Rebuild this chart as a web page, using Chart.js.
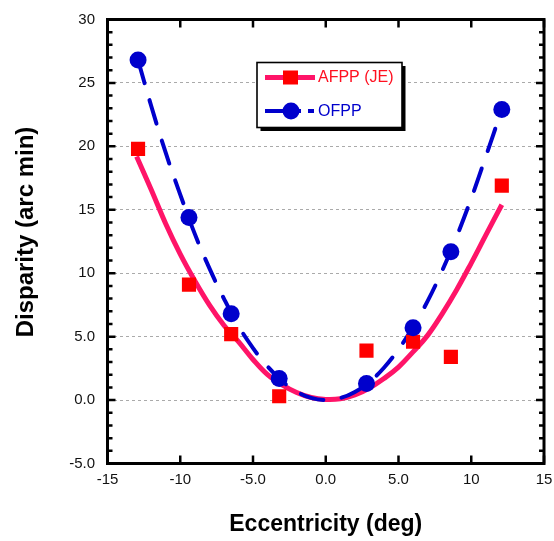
<!DOCTYPE html>
<html>
<head>
<meta charset="utf-8">
<script src="https://cdn.jsdelivr.net/npm/chart.js@4.4.1/dist/chart.umd.min.js"></script>
<style>
  html, body { margin: 0; padding: 0; background: #fff; }
</style>
</head>
<body>
<canvas id="chart" width="554" height="541"></canvas>
<script>
// measured points
const ecc = [-12.9, -9.4, -6.5, -3.2, 2.8, 6.0, 8.6, 12.1];
const afpp = [19.8, 9.1, 5.2, 0.3, 3.9, 4.6, 3.4, 16.9];
const ofpp = [26.8, 14.4, 6.8, 1.7, 1.3, 5.7, 11.7, 22.9];

// fitted curves
const afppFitX = [-13, -12, -11, -10, -9, -8, -7, -6, -5, -4, -3, -2, -1, 0, 1, 2, 3, 4, 5, 6, 7, 8, 9, 10, 11, 12.1];
const afppFitY = [19.2, 16.6, 13.9, 11.5, 9.4, 7.5, 5.9, 4.6, 3.2, 2.0, 1.2, 0.6, 0.2, 0.05, 0.1, 0.4, 0.95, 1.7, 2.6, 3.8, 5.1, 6.8, 8.7, 10.8, 13.0, 15.4];
const ofppFitX = [-12.9, -12, -11, -10, -9, -8, -7, -6, -5, -4, -3, -2, -1, 0, 1, 2, 3, 4, 5, 6, 7, 8, 9, 10, 11, 12.1];
const ofppFitY = [26.8, 23.2, 19.5, 16.2, 13.1, 10.4, 8.0, 5.85, 4.1, 2.65, 1.5, 0.67, 0.17, 0.0, 0.16, 0.64, 1.43, 2.55, 4.0, 5.75, 7.8, 10.2, 12.9, 15.9, 19.2, 22.9];

const seriesNames = ['AFPP (JE)', 'OFPP'];
const xTitle = 'Eccentricity (deg)';
const yTitle = 'Disparity (arc min)';
const xMin = -15, xMax = 15, xStep = 5;
const yMin = -5, yMax = 30, yStep = 5, yMinorStep = 1;

const PINK = '#ff1468';
const RED = '#ff0000';
const BLUE = '#0000cc';

const pts = (xs, ys) => xs.map((v, i) => ({ x: v, y: ys[i] }));
const fmt = (v) => Math.abs(v) >= 10 ? String(v) : v.toFixed(1);

// frame with inward ticks on all four sides
const framePlugin = {
  id: 'frame',
  afterDatasetsDraw(chart) {
    const { ctx, chartArea: a, scales: { x, y } } = chart;
    ctx.save();
    ctx.strokeStyle = '#000';
    ctx.lineWidth = 2.5;
    ctx.beginPath();
    for (let v = yMin; v <= yMax; v += yMinorStep) {
      const py = y.getPixelForValue(v);
      const len = v % yStep === 0 ? 8 : 5;
      ctx.moveTo(a.left, py); ctx.lineTo(a.left + len, py);
      ctx.moveTo(a.right, py); ctx.lineTo(a.right - len, py);
    }
    for (let v = xMin; v <= xMax; v += xStep) {
      const px = x.getPixelForValue(v);
      ctx.moveTo(px, a.bottom); ctx.lineTo(px, a.bottom - 8);
      ctx.moveTo(px, a.top); ctx.lineTo(px, a.top + 8);
    }
    ctx.stroke();
    ctx.lineWidth = 3;
    ctx.strokeRect(a.left, a.top, a.right - a.left, a.bottom - a.top);

    // y title
    ctx.translate(26, 232);
    ctx.rotate(-Math.PI / 2);
    ctx.fillStyle = '#000';
    ctx.font = 'bold 24px "Liberation Sans", Arial, sans-serif';
    ctx.textAlign = 'center';
    ctx.textBaseline = 'middle';
    ctx.fillText(yTitle, 0, 0);
    ctx.restore();
  }
};

// boxed legend with drop shadow
const legendPlugin = {
  id: 'boxLegend',
  afterDraw(chart) {
    const ctx = chart.ctx;
    const bx = 257, by = 62.5, bw = 145, bh = 65;
    ctx.save();
    ctx.fillStyle = '#000';
    ctx.fillRect(bx + 3.5, by + 3.5, bw, bh);
    ctx.fillStyle = '#fff';
    ctx.fillRect(bx, by, bw, bh);
    ctx.strokeStyle = '#000';
    ctx.lineWidth = 1.6;
    ctx.strokeRect(bx, by, bw, bh);

    // AFPP entry
    ctx.strokeStyle = PINK;
    ctx.lineWidth = 5;
    ctx.beginPath(); ctx.moveTo(265, 77.5); ctx.lineTo(315, 77.5); ctx.stroke();
    ctx.fillStyle = RED;
    ctx.fillRect(283, 70.5, 15, 14);

    // OFPP entry
    ctx.strokeStyle = BLUE;
    ctx.lineWidth = 4;
    ctx.beginPath(); ctx.moveTo(265, 111); ctx.lineTo(301, 111); ctx.stroke();
    ctx.beginPath(); ctx.moveTo(308, 111); ctx.lineTo(314, 111); ctx.stroke();
    ctx.fillStyle = BLUE;
    ctx.beginPath(); ctx.arc(291, 111, 8.5, 0, Math.PI * 2); ctx.fill();

    ctx.font = '16px "Liberation Sans", Arial, sans-serif';
    ctx.textBaseline = 'middle';
    ctx.textAlign = 'left';
    ctx.fillStyle = '#ff1020';
    ctx.fillText(seriesNames[0], 318, 78);
    ctx.fillStyle = BLUE;
    ctx.fillText(seriesNames[1], 318, 111.5);
    ctx.restore();
  }
};

new Chart(document.getElementById('chart'), {
  type: 'scatter',
  data: {
    datasets: [
      {
        label: seriesNames[1] + ' points',
        data: pts(ecc, ofpp),
        pointStyle: 'circle',
        pointRadius: 8.5,
        pointBorderWidth: 0,
        backgroundColor: BLUE,
        order: 1
      },
      {
        label: seriesNames[0] + ' points',
        data: pts(ecc, afpp),
        pointStyle: 'rect',
        pointRadius: 10,
        pointBorderWidth: 0,
        backgroundColor: RED,
        order: 2
      },
      {
        label: seriesNames[1] + ' fit',
        data: pts(ofppFitX, ofppFitY),
        showLine: true,
        pointRadius: 0,
        borderColor: BLUE,
        borderWidth: 4,
        borderDash: [24, 18],
        borderCapStyle: 'round',
        tension: 0.4,
        order: 3
      },
      {
        label: seriesNames[0] + ' fit',
        data: pts(afppFitX, afppFitY),
        showLine: true,
        pointRadius: 0,
        borderColor: PINK,
        borderWidth: 5,
        tension: 0.4,
        order: 4
      }
    ]
  },
  options: {
    responsive: false,
    animation: false,
    events: [],
    layout: { padding: { top: 19.5, right: 9, left: 0, bottom: 0 } },
    plugins: {
      legend: { display: false },
      tooltip: { enabled: false }
    },
    scales: {
      x: {
        type: 'linear',
        min: xMin, max: xMax,
        afterFit: (s) => { s.height = 77.5; s.paddingLeft = 0; s.paddingRight = 0; },
        grid: { display: false, drawTicks: false },
        border: { display: false },
        ticks: {
          stepSize: xStep,
          padding: 7,
          maxRotation: 0,
          color: '#111',
          font: { size: 15, family: '"Liberation Sans", Arial, sans-serif' },
          callback: fmt
        },
        title: {
          display: true,
          text: xTitle,
          color: '#000',
          padding: { bottom: 3 },
          font: { size: 23, weight: 'bold', family: '"Liberation Sans", Arial, sans-serif' }
        }
      },
      y: {
        type: 'linear',
        min: yMin, max: yMax,
        afterFit: (s) => { s.width = 107.5; s.paddingTop = 0; s.paddingBottom = 0; },
        grid: { color: '#aaaaaa', lineWidth: 1, drawTicks: false },
        border: { display: false, dash: [3, 3] },
        ticks: {
          stepSize: yStep,
          padding: 12.5,
          color: '#111',
          font: { size: 15, family: '"Liberation Sans", Arial, sans-serif' },
          callback: fmt
        }
      }
    }
  },
  plugins: [framePlugin, legendPlugin]
});
</script>
</body>
</html>
